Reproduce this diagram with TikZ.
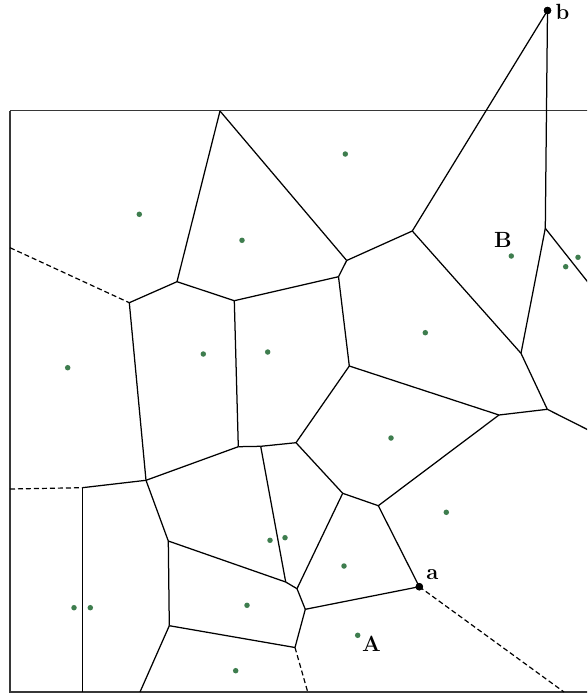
\documentclass[tikz,border=0pt]{standalone}
\usepackage{tikz}
\definecolor{sitegreen}{RGB}{62,125,78}
\definecolor{framegray}{RGB}{55,55,55}
\tikzset{
  edge/.style={line width=1.25pt, black},
  openedge/.style={line width=1.2pt, black, dash pattern=on 5pt off 3pt},
  frameline/.style={line width=1.7pt, framegray},
  site/.style={circle, fill=sitegreen, inner sep=0pt, minimum size=5.5pt},
  vtx/.style={circle, fill=black, inner sep=0pt, minimum size=7.5pt},
  lbl/.style={inner sep=0pt, font=\fontsize{22}{26}\selectfont\bfseries}
}
\begin{document}
\begin{tikzpicture}[x=1pt,y=-1pt]
\useasboundingbox (0,0) rectangle (587,694);
\clip (0,0) rectangle (587,694);
% frame
\draw[frameline] (10,110.5) -- (620,110.5);
\draw[frameline] (10,110.5) -- (10,692) -- (620,692);
% vertices
\coordinate (v1) at (220,111);
\coordinate (v2) at (177,281.7);
\coordinate (v3) at (129.3,302.7);
\coordinate (v4) at (234.3,300.7);
\coordinate (v5) at (338.5,276.7);
\coordinate (v6) at (346.7,260.5);
\coordinate (v7) at (412.3,231);
\coordinate (v8) at (545.3,228.3);
\coordinate (v9) at (521,353.3);
\coordinate (v10) at (547.3,409.3);
\coordinate (v11) at (499,415);
\coordinate (v12) at (349.3,366);
\coordinate (v14) at (378.3,505.7);
\coordinate (v15) at (296,442.7);
\coordinate (v16) at (238.3,446.7);
\coordinate (v17) at (260.7,446.3);
\coordinate (v18) at (146,480.3);
\coordinate (v19) at (82.3,487.7);
\coordinate (v20) at (168.3,541);
\coordinate (v21) at (169.3,625.7);
\coordinate (v22) at (285.7,582);
\coordinate (v23) at (297,588.7);
\coordinate (v24) at (342.7,493.3);
\coordinate (v25) at (305.3,609.3);
\coordinate (v26) at (295,647.5);
% boundary ends
\coordinate (l1) at (10,247.7);
\coordinate (l2) at (10,489);
\coordinate (r1) at (605,303.8);
\coordinate (r2) at (605,438.4);
\coordinate (b1) at (82.3,692);
\coordinate (b2) at (140,692);
\coordinate (b3) at (564,692);
\coordinate (b4) at (307.7,692);
% special vertices
\node[vtx] (a) at (419.3,586.7) {};
\node[vtx] (b) at (547.5,10.5) {};
% edges
\draw[edge] (v1) -- (v2);
\draw[edge] (v1) -- (v6);
\draw[openedge] (l1) -- (v3);
\draw[edge] (v3) -- (v2);
\draw[edge] (v2) -- (v4);
\draw[edge] (v4) -- (v5);
\draw[edge] (v5) -- (v6);
\draw[edge] (v6) -- (v7);
\draw[edge] (v7) -- (b.center);
\draw[edge] (b.center) -- (v8);
\draw[edge] (v7) -- (v9);
\draw[edge] (v8) -- (v9);
\draw[edge] (v8) -- (r1);
\draw[edge] (v9) -- (v10);
\draw[edge] (v10) -- (r2);
\draw[edge] (v10) -- (v11);
\draw[edge] (v11) -- (v12);
\draw[edge] (v11) -- (v14);
\draw[edge] (v5) -- (v12);
\draw[edge] (v12) -- (v15);
\draw[edge] (v4) -- (v16);
\draw[edge] (v16) -- (v17);
\draw[edge] (v17) -- (v15);
\draw[edge] (v3) -- (v18);
\draw[edge] (v18) -- (v16);
\draw[openedge] (l2) -- (v19);
\draw[edge] (v19) -- (v18);
\draw[edge] (v19) -- (b1);
\draw[edge] (v18) -- (v20);
\draw[edge] (v20) -- (v21);
\draw[edge] (v21) -- (b2);
\draw[edge] (v20) -- (v22);
\draw[edge] (v17) -- (v22);
\draw[edge] (v22) -- (v23);
\draw[edge] (v15) -- (v24);
\draw[edge] (v24) -- (v14);
\draw[edge] (v24) -- (v23);
\draw[edge] (v23) -- (v25);
\draw[edge] (v25) -- (a.center);
\draw[edge] (v14) -- (a.center);
\draw[openedge] (a.center) -- (b3);
\draw[edge] (v25) -- (v26);
\draw[openedge] (v26) -- (b4);
\draw[edge] (v21) -- (v26);
% redraw special vertices on top
\fill (a.center) circle (3.7pt);
\fill (b.center) circle (3.7pt);
% sites
\node[site] (s1) at (139.3,214.3) {};
\node[site] (s2) at (242,240.3) {};
\node[site] (s3) at (67.7,367.7) {};
\node[site] (s4) at (203.3,354) {};
\node[site] (s5) at (267.7,352) {};
\node[site] (s6) at (345.3,154) {};
\node[site] (s7) at (511.3,256) {};
\node[site] (s8) at (565.7,266.7) {};
\node[site] (s9) at (578,257.3) {};
\node[site] (s10) at (425.3,332.7) {};
\node[site] (s11) at (391,438) {};
\node[site] (s12) at (446.3,512.3) {};
\node[site] (s13) at (344,566) {};
\node[site] (s14) at (357.7,635.3) {};
\node[site] (s15) at (74,607.7) {};
\node[site] (s16) at (90.3,607.7) {};
\node[site] (s17) at (270,540.3) {};
\node[site] (s18) at (285,537.7) {};
\node[site] (s19) at (247,605.3) {};
\node[site] (s20) at (235.7,670.7) {};
% labels
\node[lbl] (la) at (432.3,574.7) {a};
\node[lbl] (lb) at (562.5,12) {b};
\node[lbl] (lA) at (371.5,643.3) {A};
\node[lbl] (lB) at (503,239.7) {B};
\end{tikzpicture}
\end{document}
